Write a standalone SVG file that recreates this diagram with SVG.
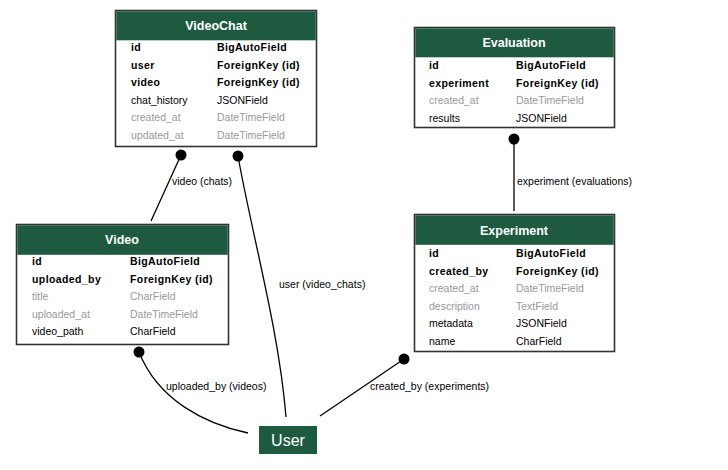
<svg xmlns="http://www.w3.org/2000/svg" width="728" height="470" viewBox="0 0 728 470">
<style>
text{font-family:"Liberation Sans",Arial,Helvetica,sans-serif;}
.box{fill:#fff;stroke:#333;stroke-width:1.6;}
.hdr{fill:#1d5a40;}
.title{fill:#fff;font-size:12.5px;font-weight:bold;text-anchor:middle;}
.k{font-size:10.5px;font-weight:bold;fill:#000;letter-spacing:0.4px;}
.f{font-size:10.5px;fill:#000;}
.g{font-size:10.5px;fill:#999;}
.conn{fill:none;stroke:#000;stroke-width:1.3;}
.dot{fill:#000;}
.lbl{font-size:10.5px;fill:#000;}
</style>
<rect width="728" height="470" fill="#fff"/>
<g id="connectors">
<circle class="dot" cx="181" cy="155" r="5.5"/>
<line class="conn" x1="181" y1="155" x2="151" y2="221"/>
<text class="lbl" x="172" y="185">video (chats)</text>
<circle class="dot" cx="238" cy="156" r="5.5"/>
<path class="conn" d="M238,156 C252,235 279,330 286,417"/>
<text class="lbl" x="279" y="288">user (video_chats)</text>
<circle class="dot" cx="139" cy="352" r="5.5"/>
<path class="conn" d="M139,352 C158,400 205,424 248,433"/>
<text class="lbl" x="166" y="390">uploaded_by (videos)</text>
<circle class="dot" cx="404" cy="359" r="5.5"/>
<line class="conn" x1="404" y1="359" x2="320" y2="416"/>
<text class="lbl" x="370" y="390">created_by (experiments)</text>
<circle class="dot" cx="514" cy="139" r="5.5"/>
<line class="conn" x1="514" y1="139" x2="514" y2="211"/>
<text class="lbl" x="517" y="185">experiment (evaluations)</text>
</g>
<g id="VideoChat">
<rect class="box" x="115.5" y="10.5" width="201" height="136"/>
<rect class="hdr" x="116.3" y="11.3" width="199.4" height="29"/>
<text class="title" x="216" y="30">VideoChat</text>
<text class="k" x="131" y="51">id</text><text class="k" x="217" y="51">BigAutoField</text>
<text class="k" x="131" y="68.5">user</text><text class="k" x="217" y="68.5">ForeignKey (id)</text>
<text class="k" x="131" y="86">video</text><text class="k" x="217" y="86">ForeignKey (id)</text>
<text class="f" x="131" y="103.5">chat_history</text><text class="f" x="217" y="103.5">JSONField</text>
<text class="g" x="131" y="121">created_at</text><text class="g" x="217" y="121">DateTimeField</text>
<text class="g" x="131" y="138.5">updated_at</text><text class="g" x="217" y="138.5">DateTimeField</text>
</g>
<g id="Video">
<rect class="box" x="16.5" y="224.5" width="212" height="120"/>
<rect class="hdr" x="17.3" y="225.3" width="210.4" height="29.5"/>
<text class="title" x="122" y="244">Video</text>
<text class="k" x="32" y="265">id</text><text class="k" x="130" y="265">BigAutoField</text>
<text class="k" x="32" y="282.5">uploaded_by</text><text class="k" x="130" y="282.5">ForeignKey (id)</text>
<text class="g" x="32" y="300">title</text><text class="g" x="130" y="300">CharField</text>
<text class="g" x="32" y="317.5">uploaded_at</text><text class="g" x="130" y="317.5">DateTimeField</text>
<text class="f" x="32" y="335">video_path</text><text class="f" x="130" y="335">CharField</text>
</g>
<g id="Evaluation">
<rect class="box" x="414.5" y="27.5" width="200" height="100"/>
<rect class="hdr" x="415.3" y="28.3" width="198.4" height="29"/>
<text class="title" x="514" y="47">Evaluation</text>
<text class="k" x="429" y="69">id</text><text class="k" x="516" y="69">BigAutoField</text>
<text class="k" x="429" y="86.5">experiment</text><text class="k" x="516" y="86.5">ForeignKey (id)</text>
<text class="g" x="429" y="104">created_at</text><text class="g" x="516" y="104">DateTimeField</text>
<text class="f" x="429" y="121.5">results</text><text class="f" x="516" y="121.5">JSONField</text>
</g>
<g id="Experiment">
<rect class="box" x="414.5" y="214.5" width="200" height="137"/>
<rect class="hdr" x="415.3" y="215.3" width="198.4" height="29.5"/>
<text class="title" x="514" y="234.5">Experiment</text>
<text class="k" x="429" y="257">id</text><text class="k" x="516" y="257">BigAutoField</text>
<text class="k" x="429" y="274.5">created_by</text><text class="k" x="516" y="274.5">ForeignKey (id)</text>
<text class="g" x="429" y="292">created_at</text><text class="g" x="516" y="292">DateTimeField</text>
<text class="g" x="429" y="309.5">description</text><text class="g" x="516" y="309.5">TextField</text>
<text class="f" x="429" y="327">metadata</text><text class="f" x="516" y="327">JSONField</text>
<text class="f" x="429" y="344.5">name</text><text class="f" x="516" y="344.5">CharField</text>
</g>
<g id="User">
<rect class="hdr" x="259" y="426" width="58" height="28"/>
<text x="288" y="446" fill="#fff" font-size="16" text-anchor="middle" font-family="Liberation Sans, Arial, sans-serif">User</text>
</g>
</svg>
